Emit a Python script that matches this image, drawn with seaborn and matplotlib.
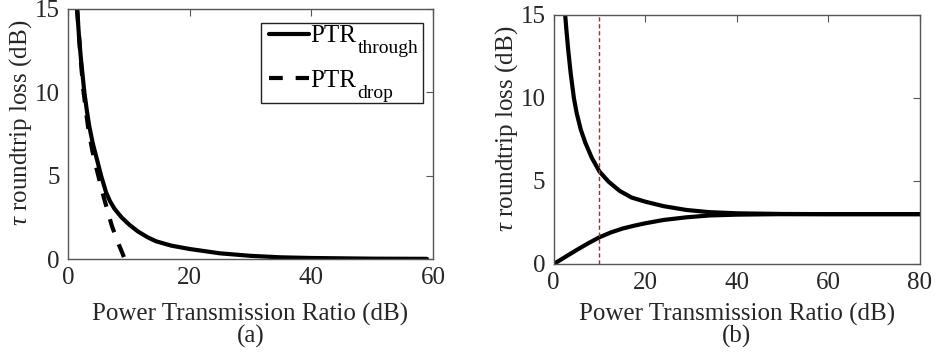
import numpy as np
import pandas as pd
import matplotlib
matplotlib.use("Agg")
import matplotlib.pyplot as plt
from matplotlib.patches import Rectangle
import seaborn as sns

# ---- data ----
a_through_x = [1.5, 1.8, 2.14, 2.69, 3.1, 3.51, 4.1, 4.78, 5.44, 6.26, 6.9, 7.63, 8.8, 10.1, 11.5, 13.1, 14.5, 17, 20, 25, 30, 35, 40, 50, 59]
a_through_y = [15, 13.4, 11.94, 10, 8.9, 7.94, 6.9, 5.94, 5.0, 4.0, 3.47, 3.02, 2.5, 2.05, 1.65, 1.3, 1.06, 0.8, 0.6, 0.34, 0.19, 0.1, 0.06, 0.02, 0.01]

a_drop_x = [1.5, 2.0, 2.5, 3.29, 4.0, 4.61, 5.82, 7.2, 8.2, 9.0, 9.3]
a_drop_y = [15, 12.4, 10.2, 7.94, 6.5, 5.54, 3.78, 2.0, 1.0, 0.3, 0.0]

b_upper_x = [2.5, 2.8, 3.2, 3.7, 4.4, 5.0, 5.9, 6.9, 8.3, 10, 12, 14.4, 17, 20, 24, 29, 34, 40, 50, 60, 80]
b_upper_y = [15, 14.0, 12.8, 11.5, 10, 9.1, 8.1, 7.3, 6.4, 5.56, 4.95, 4.4, 4.0, 3.75, 3.48, 3.25, 3.12, 3.05, 3.01, 3.0, 3.0]

b_lower_x = [0, 2.5, 5, 7.5, 10, 12.5, 15, 17.5, 20, 24, 29, 34, 40, 50, 60, 80]
b_lower_y = [0, 0.42, 0.84, 1.24, 1.61, 1.9, 2.13, 2.3, 2.45, 2.65, 2.81, 2.92, 2.97, 3.0, 3.0, 3.0]

b_marker_x = 10

a_xticks = [0, 20, 40, 60]
b_xticks = [0, 20, 40, 60, 80]
yticks = [0, 5, 10, 15]

legend_main = ["PTR", "PTR"]
legend_sub = ["through", "drop"]
xlabel = "Power Transmission Ratio (dB)"
ylabel = "$\\tau$ roundtrip loss (dB)"
panel = ["(a)", "(b)"]

# ---- style ----
sns.set_style("white")
plt.rcParams["font.family"] = ["Liberation Serif", "DejaVu Serif"]
plt.rcParams["mathtext.fontset"] = "custom"
plt.rcParams["mathtext.rm"] = "Liberation Serif"
plt.rcParams["mathtext.it"] = "Liberation Serif:italic"
plt.rcParams["mathtext.bf"] = "Liberation Serif:bold"

TXT = "#262626"
SPINE = "#555555"
FS = 18
SUBFS = 14
LW = 3.0

fig = plt.figure(figsize=(9.35, 3.57), dpi=100)
W, H = 935, 357
def box(x0, x1, ytop, ybot):
    return [x0 / W, 1 - ybot / H, (x1 - x0) / W, (ybot - ytop) / H]

ax1 = fig.add_axes(box(68, 433, 9, 259))
ax2 = fig.add_axes(box(553.7, 920, 14.7, 264))

df_at = pd.DataFrame({"x": a_through_x, "y": a_through_y})
df_ad = pd.DataFrame({"x": a_drop_x, "y": a_drop_y})
sns.lineplot(data=df_at, x="x", y="y", ax=ax1, color="black", linewidth=LW,
             sort=False, label=legend_main[0])
sns.lineplot(data=df_ad, x="x", y="y", ax=ax1, color="black", linewidth=LW,
             sort=False, label=legend_main[1], linestyle="--")
ax1.lines[-1].set_dashes([3.3, 3.1])

df_bu = pd.DataFrame({"x": b_upper_x, "y": b_upper_y})
df_bl = pd.DataFrame({"x": b_lower_x, "y": b_lower_y})
sns.lineplot(data=df_bu, x="x", y="y", ax=ax2, color="black", linewidth=LW, sort=False)
sns.lineplot(data=df_bl, x="x", y="y", ax=ax2, color="black", linewidth=LW, sort=False)
ax2.axvline(b_marker_x, color="#B0282E", linewidth=1.0, linestyle=(0, (3, 2)))

for ax, xt, bot_px, top_px, letter in [(ax1, a_xticks, 259, 9, panel[0]),
                                       (ax2, b_xticks, 264, 14.7, panel[1])]:
    ax.set_xlim(xt[0], xt[-1])
    ax.set_ylim(0, 15)
    ax.set_xticks(xt)
    ax.set_yticks(yticks)
    ax.tick_params(direction="in", length=5, width=0.8, colors=SPINE,
                   labelcolor=TXT, labelsize=FS, top=True, right=True, pad=6)
    for s in ax.spines.values():
        s.set_color(SPINE)
        s.set_linewidth(1.0)
        s.set_visible(True)
    hpx = bot_px - top_px
    ax.set_xlabel(xlabel, fontsize=FS, color=TXT)
    ax.xaxis.label.set_va("baseline")
    ax.xaxis.set_label_coords(0.5, (bot_px - 321) / hpx)
    ax.set_ylabel(ylabel, fontsize=FS, color=TXT)
    ax.yaxis.label.set_va("center")
    ax.text(0.5, (bot_px - 343) / hpx, letter, transform=ax.transAxes,
            ha="center", va="baseline", fontsize=FS, color=TXT)

ax1.yaxis.set_label_coords((21 - 68) / 365, (259 - 122.5) / 250)
ax2.yaxis.set_label_coords((507 - 553.7) / 366.3, (264 - 129) / 249.3)

# legend: handles + "PTR" from matplotlib, frame drawn as a box, subscripts added
leg = ax1.legend(loc="upper left",
                 bbox_to_anchor=(269 / W, 1 - 25 / H), bbox_transform=fig.transFigure,
                 borderaxespad=0, borderpad=0, fontsize=FS, frameon=False,
                 handlelength=1.58, handletextpad=0.08, labelspacing=0.88)
for t in leg.get_texts():
    t.set_color("black")

fig.add_artist(Rectangle((261 / W, 1 - 103 / H), (423 - 261) / W, 80 / H,
                         transform=fig.transFigure, fill=False,
                         edgecolor="#222222", linewidth=1.0, zorder=5))

fig.canvas.draw()
renderer = fig.canvas.get_renderer()
for t, main, sub in zip(leg.get_texts(), legend_main, legend_sub):
    bb = t.get_window_extent(renderer)
    prop = t.get_fontproperties()
    w_main, _, _ = renderer.get_text_width_height_descent(main, prop, ismath=False)
    _, _, d_lp = renderer.get_text_width_height_descent("lp", prop, ismath=False)
    base = bb.y0 + d_lp
    fig.text((bb.x0 + w_main + 1) / W, (base - 10.5) / H, sub, fontsize=SUBFS,
             color="black", ha="left", va="baseline")

fig.savefig("out.png", dpi=100)
